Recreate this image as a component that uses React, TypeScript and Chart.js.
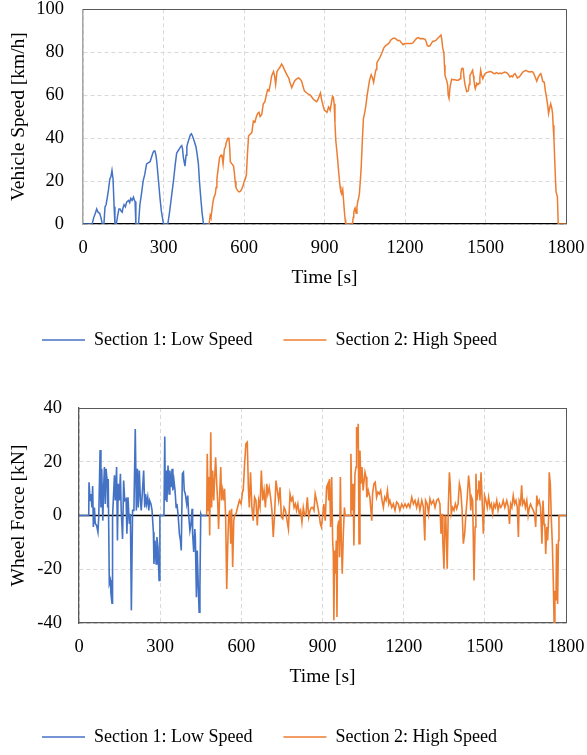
import React, { useEffect, useRef } from "react";
import { Chart, registerables } from "chart.js";

Chart.register(...registerables);

const BLUE = "#4472C4";
const ORANGE = "#ED7D31";
const FONT = "'Liberation Serif', 'Times New Roman', serif";

const timeTicks = [0, 300, 600, 900, 1200, 1500, 1800];
const speedTicks = [0, 20, 40, 60, 80, 100];
const forceTicks = [-40, -20, 0, 20, 40];
const seriesNames = ["Section 1: Low Speed", "Section 2: High Speed"];
const axisTitles = { time: "Time [s]", speed: "Vehicle Speed [km/h]", force: "Wheel Force [kN]" };

// [time s, speed km/h]
const lowSpeed: [number, number][] = [
  [0, 0], [34, 0], [40, 3], [46, 5], [51, 7], [56, 5.5], [62, 5], [67, 3], [72, 0], [78, 0],
  [82, 8], [86, 9], [90, 12], [95, 16], [100, 21], [104, 22], [108, 25], [112, 21], [116, 8], [119, 0],
  [124, 0], [130, 4.5], [134, 7], [138, 7], [142, 6], [146, 5.5], [150, 8], [153, 9], [158, 8], [162, 10],
  [165, 10.5], [170, 11], [174, 10], [178, 12], [183, 11], [188, 12.5], [192, 11], [194, 10.5], [197, 0], [207, 0],
  [212, 9], [218, 14], [224, 20], [230, 23], [237, 28], [243, 28.5], [250, 29], [255, 31], [260, 33], [264, 34],
  [268, 34], [272, 32], [275, 29], [280, 22], [287, 12], [292, 6], [296, 3], [300, 0], [316, 0], [322, 5],
  [326, 9], [332, 15], [338, 21], [344, 28], [349, 33], [354, 34], [359, 35], [364, 36], [368, 36.5], [371, 35],
  [374, 31], [377, 29], [380, 27], [384, 32], [387, 36], [391, 38], [396, 40], [400, 41.5], [404, 42], [408, 41],
  [411, 40], [416, 38], [421, 36], [426, 32], [430, 28], [434, 20], [439, 12], [444, 5], [449, 0], [470, 0],
];

const highSpeed: [number, number][] = [
  [470, 0], [474, 4], [477, 3], [480, 6], [484, 10], [487, 12], [490, 13], [493, 14], [496, 17], [499, 21],
  [504, 26], [509, 31], [514, 32], [518, 32], [522, 28], [527, 35], [531, 36], [534, 38], [540, 40], [544, 40],
  [547, 35], [549, 29], [555, 28], [561, 27], [564, 24], [567, 20], [570, 17], [574, 16], [580, 15], [584, 15],
  [588, 15.5], [592, 16.5], [597, 18], [601, 20], [605, 21], [609, 23], [613, 33], [617, 41], [624, 42], [629, 42.5],
  [635, 48], [641, 47.5], [646, 50], [651, 51.5], [656, 52], [660, 50], [666, 51], [672, 56], [678, 57], [683, 60],
  [688, 62.5], [693, 62], [698, 65], [703, 69], [710, 71], [714, 69], [718, 65], [723, 71], [728, 72], [734, 73],
  [740, 74.5], [745, 73.5], [750, 72], [756, 70.5], [762, 69], [767, 68], [771, 66], [778, 63.5], [783, 65], [788, 66.5],
  [795, 67.5], [803, 68], [809, 67.5], [815, 66.5], [820, 64], [825, 62], [834, 61], [840, 60.5], [847, 60], [853, 59],
  [859, 58], [865, 57.5], [871, 57], [876, 58], [880, 59.5], [885, 61], [889, 58], [893, 56], [897, 54], [900, 53],
  [905, 52.5], [909, 52], [912, 53], [915, 54.5], [918, 54], [921, 53], [925, 56], [930, 59.5], [933, 59], [936, 56],
  [939, 47], [942, 39], [946, 34], [949, 30], [953, 24], [958, 17.5], [961, 15], [964, 14], [968, 16], [971, 11],
  [974, 6], [977, 2], [979, 0], [1004, 0], [1007, 3], [1009, 5], [1012, 7], [1014, 7.5], [1018, 5], [1021, 8],
  [1024, 10.5], [1027, 12], [1030, 14], [1034, 21], [1037, 27], [1041, 39], [1045, 49], [1050, 52], [1054, 55], [1059, 60],
  [1064, 64], [1068, 67], [1074, 69.5], [1079, 68], [1083, 66], [1087, 69], [1092, 72], [1095, 75], [1099, 76], [1104, 77],
  [1108, 78], [1115, 80], [1121, 82], [1127, 83], [1133, 83.5], [1138, 84], [1142, 84.5], [1146, 85.5], [1150, 86], [1156, 86.5],
  [1163, 86.5], [1168, 86], [1172, 85.5], [1180, 85.5], [1186, 84.5], [1193, 83.5], [1199, 84], [1206, 84], [1215, 84], [1225, 84],
  [1231, 84.5], [1237, 85.6], [1244, 86.5], [1250, 86.8], [1256, 86.3], [1262, 86.4], [1268, 86.3], [1275, 86], [1280, 84.5], [1283, 83],
  [1288, 82.8], [1293, 83], [1298, 84], [1303, 85], [1310, 85.2], [1316, 85.6], [1322, 86.5], [1328, 87.2], [1334, 88], [1337, 86],
  [1340, 82.6], [1343, 80.5], [1345, 79.5], [1347, 74], [1349, 69.3], [1352, 68], [1355, 67], [1359, 64.7], [1361, 60], [1364, 58.5],
  [1368, 64], [1374, 67.4], [1380, 67.2], [1386, 67.2], [1392, 67], [1399, 67], [1405, 67.6], [1408, 70], [1411, 72.2], [1414, 72.5],
  [1417, 72.2], [1420, 68], [1424, 64.7], [1430, 61.6], [1436, 62], [1439, 65], [1442, 69.3], [1446, 70], [1449, 70], [1452, 71.6],
  [1455, 69], [1457, 67], [1460, 64], [1462, 63], [1465, 64.5], [1467, 65.5], [1472, 65], [1476, 65.5], [1479, 68], [1482, 71.6],
  [1486, 69], [1490, 67.6], [1494, 69], [1498, 70], [1504, 70.5], [1511, 70.8], [1517, 71], [1523, 70.8], [1529, 70.2], [1535, 70],
  [1541, 70.5], [1548, 70], [1554, 70.3], [1560, 70], [1566, 70.5], [1573, 70.8], [1581, 70.3], [1586, 69.5], [1591, 68.5], [1596, 69],
  [1601, 68.5], [1605, 69.5], [1610, 70], [1615, 69], [1619, 68], [1626, 68.5], [1632, 69.5], [1639, 70.8], [1645, 71.2], [1651, 71.6],
  [1658, 71], [1666, 70.8], [1671, 71], [1676, 70.8], [1680, 70], [1685, 68.5], [1691, 66.5], [1694, 67.5], [1697, 68.5], [1702, 69.5],
  [1706, 70], [1709, 69], [1713, 66.5], [1719, 66], [1723, 62], [1728, 58.5], [1732, 55], [1735, 51.5], [1739, 54], [1743, 56],
  [1747, 54], [1750, 51.5], [1752, 46], [1755, 39.8], [1758, 30], [1761, 20], [1763, 15], [1768, 12.7], [1771, 0], [1800, 0],
];

// [time s, wheel force kN]
const lowForce: [number, number][] = [
  [0, 0], [36, 0], [37, 12.4], [41, 5.6], [44, 8], [48, 3], [50.5, 11], [53, -4.3], [57, 3], [60, -3],
  [65, -3.7], [70, -6.2], [73, -0.6], [78, 24.4], [81, 3], [84, 17.4], [88, -1.9], [91, 10.5], [94, 18], [97, 4.3],
  [100, 17.4], [104, 13], [106, 3], [108, 13.6], [112, -25.4], [116, -24], [118, -29], [122, -32.6], [124, -0.6], [131, 15],
  [134, 5.6], [139, 18], [142, -9.3], [145, 11.8], [149, 5.6], [153, 15.5], [156, 1.9], [161, -8.7], [165, 13], [169, 5.6],
  [174, 6.2], [177, -6.8], [181, 6.8], [186, -3.1], [190, 0.6], [193.5, -35.3], [198, 1.9], [203, 1.9], [208, 32.2], [212, 1.9],
  [216, 17.4], [219, 3], [223, 16.7], [227, 5.6], [230, 1.9], [235, 9.9], [239, 16.7], [243, 3], [246, 8], [250, 4.3],
  [254, 6.8], [258, 1.9], [261, 5.6], [266, 4.3], [270, 1.9], [275, -6.2], [277, -18], [281, -9.3], [285, -18], [288, -8],
  [292, -11.8], [296, -24.2], [299, 0], [314, 0], [317, 29.4], [319, 5.6], [322, 16.7], [325, 5], [329, 18.6], [333, 8],
  [336, 16.7], [340, 10.5], [344, 17.4], [347, 9.3], [351, 13], [355, 9.3], [359, 3], [362, 4.3], [367, -0.6], [371, -6.8],
  [375, -9.3], [378, -13], [382, 15.5], [386, 16.1], [389, 9.3], [393, 8], [398, 4.3], [402, 7.4], [405, 0.6], [410, -5.6],
  [414, -3.1], [418, 2.5], [420, -6.8], [424, -13.6], [428, -5], [430, -8], [434, -30.4], [437, -13], [441, -26.7], [444, -36],
  [447, -26], [450, 0.6], [452, 0], [472, 0],
];

const highForce: [number, number][] = [
  [472, 0], [474, 23], [478, 1.9], [480, 14.3], [483, -7.4], [487, 31], [490, 3], [494, 16.7], [498, 5.6], [501, 13],
  [505, 21.7], [509, 11.8], [513, 4.3], [516, -5], [520, 8], [524, 18], [527, 5.6], [531, 9.3], [535, 5.6], [538, 9.9],
  [542, -0.6], [546, -27.3], [549.5, -11.8], [553, -0.6], [557, 1.9], [561, -10.5], [564, 2.5], [568, -19.2], [572, -1.9], [575, 0],
  [580, 0.6], [586, 3], [593, 5.6], [599, 4.3], [605, 9.3], [607, 9.3], [612, 19.2], [617, 26.7], [622, 27.3], [626, 10.5],
  [629.5, 3], [634, 16.1], [639, 3], [644, -1.9], [649, 6.8], [654, 5.6], [659, -3.7], [664, 5.6], [669, 3], [674, 16.7],
  [679, 5.6], [684, 9.3], [689, 3], [694, 11.8], [698, 8], [703, 10.5], [708, 6.8], [713, 1.9], [718, -8], [723, 0.6],
  [728, 13], [733, 9.3], [738, 5.6], [743, 10.5], [748, -0.6], [753, -1.2], [758, 3], [763, 1.9], [767, -0.6], [774, -5],
  [780, 8], [785, 5.6], [790, 6.8], [795, 3], [800, 4.3], [804, 1.9], [809, 4.3], [814, 0.6], [819, 1.9], [824, -2.5],
  [829, 3], [834, 0], [839, 0.6], [844, 6.8], [849, -0.6], [854, 1.9], [859, 3], [864, 3], [868.5, 1.9], [873, 8],
  [878, 5.6], [883, 3], [888, 0], [892, -3.1], [896, -4.3], [900, -0.6], [905, 4.3], [910, -1.9], [915, 10.5], [920, 11.8],
  [923, 5.6], [926, 13.6], [930, -4.3], [934, 14.3], [937.5, -9.3], [940, -14.3], [942, -39], [945, -13], [947, -21.7], [951, -9.3],
  [953.5, -37.8], [956, -4.3], [960, -1.9], [963, -15.5], [966, 14.3], [969.5, -9.3], [973, -21.7], [977, -6.8], [981, 3], [984, 0],
  [1002, 0], [1005, 23], [1009, 1.9], [1013, 11.8], [1016, -11.2], [1020, 15.5], [1024, 18], [1026, 32.9], [1029, 25.4], [1032, 34.1],
  [1035, -10.5], [1038.5, 24.2], [1042, 11.8], [1046, 18], [1050, 9.3], [1053, 9.3], [1057, 16.1], [1061, 14.3], [1064, 6.8], [1069, 9.3],
  [1075, 6.8], [1082, -1.9], [1085, 8], [1090, 11.8], [1095, 12.4], [1100, 6.8], [1105, 8.7], [1110, 8], [1115, 9.3], [1120, 5.6],
  [1125, 3], [1130, 6.8], [1135, 5.6], [1140, 9.3], [1145, 4.3], [1149, 5.6], [1156, 3], [1162, 4.3], [1168, 1.9], [1174, 5],
  [1180, 4.3], [1186, 1.9], [1193, 4.3], [1199, 3], [1205, 4.3], [1211, 3], [1217, 4.3], [1223, 3], [1230, 6.8], [1236, 4.3],
  [1242, 5.6], [1248, 3], [1254, 5.6], [1260, 1.9], [1267, 5.6], [1273, 3], [1278, -9.3], [1281, 5.6], [1287, 4.3], [1292, 0.6],
  [1297, 6.2], [1303, 4.3], [1310, 5.6], [1316, 3], [1322, 5.6], [1328, 6.2], [1334, 4.3], [1338, -6.8], [1342, 0.6], [1345, -10.5],
  [1349, -19.8], [1353, 0], [1356, -1.9], [1361, -19.8], [1365, 3], [1369, 16.1], [1372, 11.8], [1376, 0.6], [1381, 3], [1386, 1.9],
  [1391, 4.3], [1396, 2.5], [1401, 4.3], [1406, 11.8], [1411, 9.3], [1416, 1.9], [1420.5, -10.5], [1425.5, -6.8], [1430, 0.6], [1435, 6.8],
  [1440, 14.9], [1444, 10.5], [1448, 1.9], [1451, 6.8], [1455, 5.6], [1460, -24.2], [1464, -4.3], [1467, 15.5], [1471, 5.6], [1475, 9.3],
  [1478, 13], [1482, 5.6], [1486, 16.1], [1490, 5.6], [1494.5, -6.8], [1499, 7.4], [1504, 5.6], [1509, 3], [1514, 6.8], [1519, 3],
  [1524, 4.3], [1529, 0.6], [1534, 4.3], [1539, 3], [1544, 5.6], [1549, 1.9], [1554, 4.3], [1559, 3], [1563, 3.7], [1568, 5.6],
  [1574, 3], [1581, 5.6], [1587, 3], [1591, -3.1], [1595.5, 4.3], [1600, 3], [1605, 7.4], [1610, 4.3], [1615, 5.6], [1620, 3],
  [1624, -8], [1627, 5.6], [1632, 4.3], [1636, 11.2], [1640, 4.3], [1645, 5.6], [1650, 3], [1655, 5.6], [1660, 0], [1664.5, 3],
  [1669, 4.3], [1674, 3], [1679, 1.9], [1684, 0.6], [1688, -4.3], [1692, 7.4], [1696, 4.3], [1701, 5.6], [1706, 3], [1711, -10.5],
  [1715, 5.6], [1719, -3.1], [1722, -4.3], [1725, -14.3], [1729, -4.3], [1732, -9.3], [1736, -0.6], [1738, 16.1], [1742, 11.8], [1746, -1.9],
  [1749.5, -10.5], [1753, -24.2], [1756, -39.7], [1759, -28], [1763, -31.6], [1765, -10.5], [1769, -32.9], [1772, -9.3], [1774, 0], [1800, 0],
];

const framePlugin = {
  id: "frame",
  beforeDatasetsDraw(chart: any, _args: any, opts: any) {
    const { ctx, chartArea } = chart;
    const { left, right, top, bottom } = chartArea;
    ctx.save();
    ctx.lineWidth = 1;
    ctx.strokeStyle = opts.color || "#595959";
    ctx.beginPath();
    ctx.moveTo(left, Math.round(top) + 0.5);
    ctx.lineTo(right, Math.round(top) + 0.5);
    ctx.moveTo(Math.round(right) + 0.5, top);
    ctx.lineTo(Math.round(right) + 0.5, bottom);
    ctx.stroke();
    if (opts.zero) {
      const y = chart.scales.y.getPixelForValue(0);
      ctx.strokeStyle = "#000000";
      ctx.lineWidth = 1.3;
      ctx.beginPath();
      ctx.moveTo(left, y);
      ctx.lineTo(right, y);
      ctx.stroke();
    }
    ctx.restore();
  },
};

type PanelCfg = {
  low: [number, number][];
  high: [number, number][];
  yTicks: number[];
  yTitle: string;
  yWidth: number;
  yTickGap: number;
  xTickGap: number;
  xBorder: string;
  yBorder: string;
  yBorderWidth: number;
  zero: boolean;
  padding: { left: number; right: number; top: number; bottom: number };
  titlePad: { top: number; bottom: number };
  lineWidth: number;
};

function buildConfig(c: PanelCfg): any {
  const toXY = (arr: [number, number][]) => arr.map(([x, y]) => ({ x, y }));
  const tickFont = { family: FONT, size: 18.5, lineHeight: 1 };
  const titleFont = { family: FONT, size: 19.5 };
  return {
    type: "line",
    data: {
      datasets: [
        {
          label: seriesNames[0],
          data: toXY(c.low),
          borderColor: BLUE,
          backgroundColor: BLUE,
          borderWidth: c.lineWidth,
          pointRadius: 0,
          tension: 0,
          fill: false,
        },
        {
          label: seriesNames[1],
          data: toXY(c.high),
          borderColor: ORANGE,
          backgroundColor: ORANGE,
          borderWidth: c.lineWidth,
          pointRadius: 0,
          tension: 0,
          fill: false,
        },
      ],
    },
    options: {
      animation: false,
      responsive: false,
      layout: { padding: c.padding },
      scales: {
        x: {
          type: "linear",
          min: timeTicks[0],
          max: timeTicks[timeTicks.length - 1],
          afterBuildTicks: (s: any) => {
            s.ticks = timeTicks.map((v) => ({ value: v }));
          },
          grid: {
            color: "#d9d9d9",
            lineWidth: 1,
            drawTicks: true,
            tickLength: c.xTickGap,
            tickColor: "rgba(0,0,0,0)",
          },
          border: { display: true, color: c.xBorder, width: 1.3, dash: [4, 3] },
          ticks: {
            color: "#000",
            font: tickFont,
            padding: 0,
            maxRotation: 0,
            autoSkip: false,
            callback: (v: any) => String(v),
          },
          title: {
            display: true,
            text: axisTitles.time,
            color: "#000",
            font: titleFont,
            padding: c.titlePad,
          },
        },
        y: {
          type: "linear",
          min: c.yTicks[0],
          max: c.yTicks[c.yTicks.length - 1],
          afterBuildTicks: (s: any) => {
            s.ticks = c.yTicks.map((v) => ({ value: v }));
          },
          afterFit: (s: any) => {
            s.width = c.yWidth;
          },
          grid: {
            color: "#d9d9d9",
            lineWidth: 1,
            drawTicks: true,
            tickLength: c.yTickGap,
            tickColor: "rgba(0,0,0,0)",
          },
          border: { display: true, color: c.yBorder, width: c.yBorderWidth, dash: [4, 3] },
          ticks: {
            color: "#000",
            font: tickFont,
            padding: 0,
            autoSkip: false,
            callback: (v: any) => String(v),
          },
          title: {
            display: true,
            text: c.yTitle,
            color: "#000",
            font: titleFont,
            padding: { top: -4, bottom: 0 },
          },
        },
      },
      plugins: {
        legend: {
          display: true,
          position: "bottom",
          align: "start",
          labels: {
            usePointStyle: true,
            pointStyle: "line",
            pointStyleWidth: 43,
            padding: 31,
            color: "#000",
            font: { family: FONT, size: 18 },
          },
        },
        tooltip: { enabled: false },
        frame: { color: "#595959", zero: c.zero },
      },
    },
    plugins: [framePlugin],
  };
}

function Panel({ cfg, top, height }: { cfg: PanelCfg; top: number; height: number }) {
  const ref = useRef<HTMLCanvasElement | null>(null);
  useEffect(() => {
    if (!ref.current) return;
    const chart = new Chart(ref.current, buildConfig(cfg));
    return () => chart.destroy();
  }, []);
  return (
    <canvas
      ref={ref}
      width={587}
      height={height}
      style={{ position: "absolute", left: 0, top, width: 587, height }}
    />
  );
}

const speedPanel: PanelCfg = {
  low: lowSpeed,
  high: highSpeed,
  yTicks: speedTicks,
  yTitle: axisTitles.speed,
  yWidth: 72,
  yTickGap: 19,
  xTickGap: 14.75,
  xBorder: "#000000",
  yBorder: "#a6a6a6",
  yBorderWidth: 1.5,
  zero: false,
  padding: { left: 11, right: 21, top: 0, bottom: 26 },
  titlePad: { top: 9, bottom: 10.3 },
  lineWidth: 1.5,
};

const forcePanel: PanelCfg = {
  low: lowForce,
  high: highForce,
  yTicks: forceTicks,
  yTitle: axisTitles.force,
  yWidth: 68,
  yTickGap: 17,
  xTickGap: 14.5,
  xBorder: "#595959",
  yBorder: "#595959",
  yBorderWidth: 1.3,
  zero: true,
  padding: { left: 11, right: 21, top: 23, bottom: 2 },
  titlePad: { top: 9, bottom: 8.6 },
  lineWidth: 1.6,
};

export default function App() {
  return (
    <div
      style={{
        position: "absolute",
        left: 0,
        top: 0,
        width: 587,
        height: 755,
        overflow: "hidden",
        background: "#fff",
      }}
    >
      <Panel cfg={speedPanel} top={0} height={385} />
      <Panel cfg={forcePanel} top={385} height={373} />
    </div>
  );
}
